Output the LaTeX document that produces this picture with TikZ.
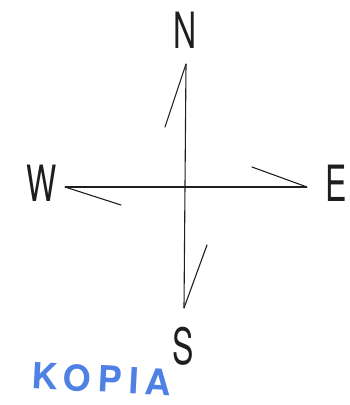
\documentclass[tikz,border=0pt]{standalone}
\usepackage{fontspec}
\setmainfont{TeX Gyre Heros}
\usepackage{xcolor}
\usepackage{tikz}
\usetikzlibrary{positioning,calc}
\definecolor{ink}{HTML}{1E1E1E}
\definecolor{stampblue}{HTML}{4F80E4}

\tikzset{
  arm/.style={line width=1.1pt,draw=ink},
  barb/.style={line width=1.1pt,draw=ink,line cap=round},
  compass/.style={font=\fontsize{50}{50}\selectfont,text=ink,xscale=0.64,inner sep=0pt},
  stamp/.style={font=\fontsize{36}{36}\selectfont\bfseries\addfontfeature{LetterSpace=19},text=stampblue,inner sep=0pt,rotate=-3}
}

\begin{document}
\begin{tikzpicture}[x=1pt,y=1pt]
    \useasboundingbox (0,0) rectangle (350,405);
    % arms of the cross
    \coordinate (tipN) at (186,341);
    \coordinate (tipS) at (184,97);
    \coordinate (tipW) at (65,218);
    \coordinate (tipE) at (307,218);
    \draw[arm] (tipN) -- (tipS);
    \draw[arm] (tipW) -- (tipE);
    % half arrow barbs
    \coordinate (barbN) at (165,278);
    \coordinate (barbS) at (207,160);
    \coordinate (barbW) at (121,200);
    \coordinate (barbE) at (252,238);
    \draw[barb] (tipN) -- (barbN);
    \draw[barb] (tipS) -- (barbS);
    \draw[barb] (tipW) -- (barbW);
    \draw[barb] (tipE) -- (barbE);
    % labels
    \node[compass] (north) at (185,375) {N};
    \node[compass] (south) at (183,59) {S};
    \node[compass] (west) at (42,222) {W};
    \node[compass] (east) at (336,222) {E};
    \node[stamp] (kopia) at (102,26) {KOPIA};
  \end{tikzpicture}
\end{document}
